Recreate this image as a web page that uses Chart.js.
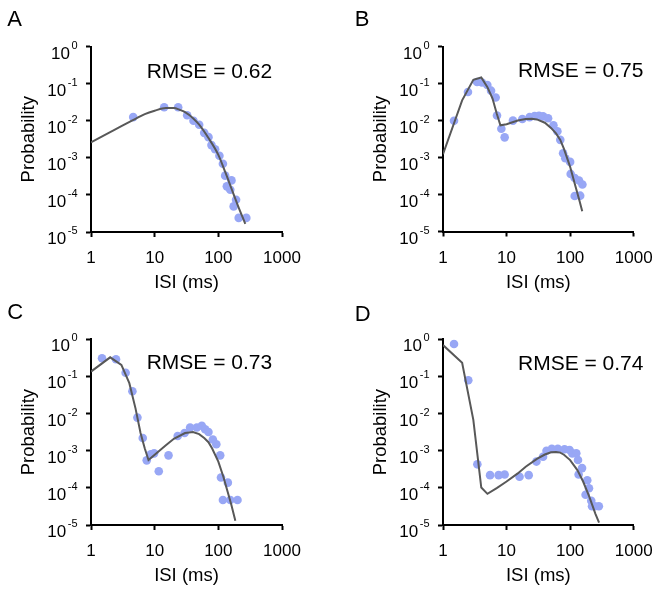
<!DOCTYPE html>
<html>
<head>
<meta charset="utf-8">
<script src="https://cdn.jsdelivr.net/npm/chart.js"></script>
<style>
  body { margin: 0; background: #fff; }
  #wrap { position: relative; width: 656px; height: 591px; }
  canvas { position: absolute; }
</style>
</head>
<body>
<div id="wrap">
  <canvas id="chartA" width="328" height="296" style="left:0;top:0"></canvas>
  <canvas id="chartB" width="328" height="296" style="left:328px;top:0"></canvas>
  <canvas id="chartC" width="328" height="296" style="left:0;top:295px"></canvas>
  <canvas id="chartD" width="328" height="296" style="left:328px;top:295px"></canvas>
</div>
<script>
// tick labels
const xTicks = [1, 10, 100, 1000];
const xTickLabels = ['1', '10', '100', '1000'];
const yTicks = [1, 0.1, 0.01, 0.001, 0.0001, 0.00001];
const yTickExps = ['0', '-1', '-2', '-3', '-4', '-5'];
const xTitle = 'ISI (ms)';
const yTitle = 'Probability';

// panel A
const dotsAx = [4.6, 14.1, 23.4, 32.4, 40.7, 50, 60, 70, 78, 89, 104, 118, 128, 161, 136, 154, 190, 174, 209, 275];
const dotsAy = [0.0125, 0.023, 0.023, 0.014, 0.010, 0.0078, 0.0047, 0.0036, 0.0022, 0.0017, 0.00114, 0.00069, 0.00033, 0.000246, 0.00017, 0.000138, 7.4e-5, 4.9e-5, 2.4e-5, 2.4e-5];
const fitAx = [1, 2, 3, 5, 7, 10, 15, 20, 25, 30, 40, 50, 70, 100, 130, 160, 200, 265];
const fitAy = [2.6e-3, 4.9e-3, 7.1e-3, 0.0112, 0.0151, 0.0186, 0.0219, 0.0219, 0.0195, 0.017, 0.0117, 0.0078, 0.0034, 0.0012, 0.00039, 0.000151, 5.5e-5, 1.66e-5];

// panel B
const dotsBx = [1.49, 2.47, 3.43, 4.1, 4.98, 5.7, 6.74, 7.07, 8.28, 9.33, 12.6, 17.7, 23, 27.6, 32.4, 37.5, 45, 54.6, 63, 70, 77.5, 84, 100, 102, 118, 138, 156, 118, 144];
const dotsBy = [0.0098, 0.059, 0.11, 0.106, 0.091, 0.064, 0.042, 0.0137, 0.006, 0.0035, 0.0099, 0.011, 0.0123, 0.0132, 0.0135, 0.0129, 0.0115, 0.0074, 0.0051, 0.003, 0.0013, 0.00095, 0.00076, 0.00036, 0.00028, 0.00024, 0.000186, 9.1e-5, 9.3e-5];
const fitBx = [1, 2, 3, 4, 5, 6, 7, 8, 10, 15, 20, 25, 30, 40, 50, 60, 70, 80, 100, 120, 140, 155];
const fitBy = [1.23e-3, 0.035, 0.126, 0.145, 0.079, 0.04, 0.0155, 0.0074, 0.0079, 0.01, 0.011, 0.0112, 0.0107, 0.0087, 0.0063, 0.0045, 0.003, 0.0017, 0.00056, 0.000178, 6.9e-5, 3.5e-5];

// panel C
const dotsCx = [1.49, 2.47, 3.5, 4.47, 5.36, 6.5, 7.5, 8.7, 9.8, 11.6, 16.5, 23, 29.5, 36, 46, 55, 62, 70, 82, 93, 107, 110, 141, 118, 154, 200];
const dotsCy = [0.31, 0.29, 0.126, 0.04, 0.0078, 0.0022, 0.00055, 0.0008, 0.00085, 0.00028, 0.00075, 0.0025, 0.003, 0.0042, 0.0042, 0.0047, 0.0038, 0.0032, 0.002, 0.0015, 0.00075, 0.00019, 0.000138, 4.7e-5, 4.7e-5, 4.7e-5];
const fitCx = [1, 2, 3, 4, 5, 6, 7, 8, 10, 15, 20, 30, 40, 50, 60, 70, 80, 100, 120, 140, 160, 185];
const fitCy = [0.135, 0.327, 0.204, 0.066, 0.0138, 0.003, 0.00115, 0.00056, 0.00078, 0.0014, 0.0021, 0.003, 0.0032, 0.0028, 0.0022, 0.0017, 0.00115, 0.00051, 0.0002, 7.9e-5, 3.5e-5, 1.3e-5];

// panel D
const dotsDx = [1.49, 2.5, 3.47, 5.5, 7.5, 9.33, 16, 22.3, 29.5, 37.5, 42.5, 51.5, 64, 81.6, 98, 108, 125, 133, 154, 136, 186, 198, 175, 215, 221, 244, 283];
const dotsDy = [0.75, 0.079, 0.00043, 0.00022, 0.00022, 0.00023, 0.0002, 0.00022, 0.00051, 0.00069, 0.001, 0.00112, 0.00112, 0.0011, 0.00105, 0.00085, 0.00085, 0.00056, 0.00034, 0.00023, 0.00016, 9.8e-5, 6.5e-5, 4.5e-5, 3.2e-5, 3.2e-5, 3.2e-5];
const fitDx = [1, 2, 3, 4, 5, 7, 10, 15, 20, 30, 40, 50, 60, 70, 80, 100, 130, 160, 200, 250, 285];
const fitDy = [0.7, 0.234, 0.0068, 0.000102, 6.9e-5, 9.8e-5, 0.000148, 0.000245, 0.00037, 0.0006, 0.00079, 0.00091, 0.00093, 0.00089, 0.00078, 0.00056, 0.0003, 0.000148, 5.8e-5, 2.0e-5, 1.15e-5];

const panelNames = ['A', 'B', 'C', 'D'];
const rmseTexts = ['RMSE = 0.62', 'RMSE = 0.75', 'RMSE = 0.73', 'RMSE = 0.74'];

const FONT = '"Liberation Sans", Arial, sans-serif';
const dotColor = 'rgb(152,167,245)';
const lineColor = '#585858';

// where things sit inside each 328x296 canvas
const layouts = [
  { pad: {left: 91, right: 46, top: 46.5, bottom: 64}, letter: [7.3, 26], rmse: [146.7, 78.3], smooth: true },
  { pad: {left: 115, right: 22.3, top: 46.5, bottom: 64.5}, letter: [26.7, 25.7], rmse: [190, 77.3], smooth: false },
  { pad: {left: 91, right: 46, top: 44.3, bottom: 66}, letter: [7.3, 24.3], rmse: [146.7, 74], smooth: false },
  { pad: {left: 115, right: 22.3, top: 44.3, bottom: 66}, letter: [26.7, 25.7], rmse: [190, 75], smooth: false }
];

function pts(xs, ys) {
  return xs.map((x, i) => ({x: x, y: ys[i]}));
}

const textPlugin = {
  id: 'panelText',
  afterDraw(chart, args, opts) {
    const c = chart.ctx;
    const area = chart.chartArea;
    const sx = chart.scales.x, sy = chart.scales.y;
    c.save();
    c.fillStyle = '#000';
    c.textBaseline = 'alphabetic';

    // y tick labels 10^n
    yTicks.forEach((v, i) => {
      const py = sy.getPixelForValue(v);
      c.font = '11px ' + FONT;
      const we = c.measureText(yTickExps[i]).width;
      c.font = '17px ' + FONT;
      const wb = c.measureText('10').width;
      const right = area.left - 13.5;
      c.textAlign = 'left';
      c.fillText('10', right - we - wb - 1.5, py + 12);
      c.font = '11px ' + FONT;
      c.fillText(yTickExps[i], right - we, py + 2);
    });

    // x tick labels
    c.font = '17px ' + FONT;
    c.textAlign = 'center';
    xTicks.forEach((v, i) => {
      c.fillText(xTickLabels[i], sx.getPixelForValue(v), area.bottom + 31);
    });

    // axis titles
    c.font = '18.5px ' + FONT;
    c.fillText(xTitle, (area.left + area.right) / 2, area.bottom + 56);
    c.save();
    c.translate(area.left - 57.5, (area.top + area.bottom) / 2);
    c.rotate(-Math.PI / 2);
    c.fillText(yTitle, 0, 0);
    c.restore();

    // letter and RMSE
    c.textAlign = 'left';
    c.font = '22px ' + FONT;
    c.fillText(opts.letter, opts.letterPos[0], opts.letterPos[1]);
    c.font = '21px ' + FONT;
    c.fillText(opts.rmse, opts.rmsePos[0], opts.rmsePos[1]);
    c.restore();
  }
};

function makePanel(id, k, dx, dy, fx, fy) {
  const L = layouts[k];
  return new Chart(document.getElementById(id), {
    type: 'scatter',
    data: {
      datasets: [{
        type: 'line',
        data: pts(fx, fy),
        borderColor: lineColor,
        borderWidth: 2,
        pointRadius: 0,
        tension: 0,
        cubicInterpolationMode: L.smooth ? 'monotone' : 'default',
        fill: false,
        order: 0
      }, {
        data: pts(dx, dy),
        backgroundColor: dotColor,
        borderWidth: 0,
        pointRadius: 4.3,
        order: 1
      }]
    },
    options: {
      responsive: false,
      animation: false,
      devicePixelRatio: 1,
      layout: { padding: L.pad },
      plugins: {
        legend: { display: false },
        tooltip: { enabled: false },
        panelText: { letter: panelNames[k], letterPos: L.letter, rmse: rmseTexts[k], rmsePos: L.rmse }
      },
      scales: {
        x: {
          type: 'logarithmic',
          min: 1, max: 1000,
          afterBuildTicks: s => { s.ticks = xTicks.map(v => ({value: v})); },
          afterFit: s => { s.height = 0; },
          ticks: { display: false },
          grid: { display: true, drawOnChartArea: false, drawTicks: true, tickLength: 5, tickWidth: 2, color: '#000' },
          border: { display: true, color: '#000', width: 2 }
        },
        y: {
          type: 'logarithmic',
          min: 0.00001, max: 1,
          afterBuildTicks: s => { s.ticks = yTicks.map(v => ({value: v})); },
          afterFit: s => { s.width = 0; },
          ticks: { display: false },
          grid: { display: true, drawOnChartArea: false, drawTicks: true, tickLength: 5, tickWidth: 2, color: '#000' },
          border: { display: true, color: '#000', width: 2 }
        }
      }
    },
    plugins: [textPlugin]
  });
}

makePanel('chartA', 0, dotsAx, dotsAy, fitAx, fitAy);
makePanel('chartB', 1, dotsBx, dotsBy, fitBx, fitBy);
makePanel('chartC', 2, dotsCx, dotsCy, fitCx, fitCy);
makePanel('chartD', 3, dotsDx, dotsDy, fitDx, fitDy);
</script>
</body>
</html>
